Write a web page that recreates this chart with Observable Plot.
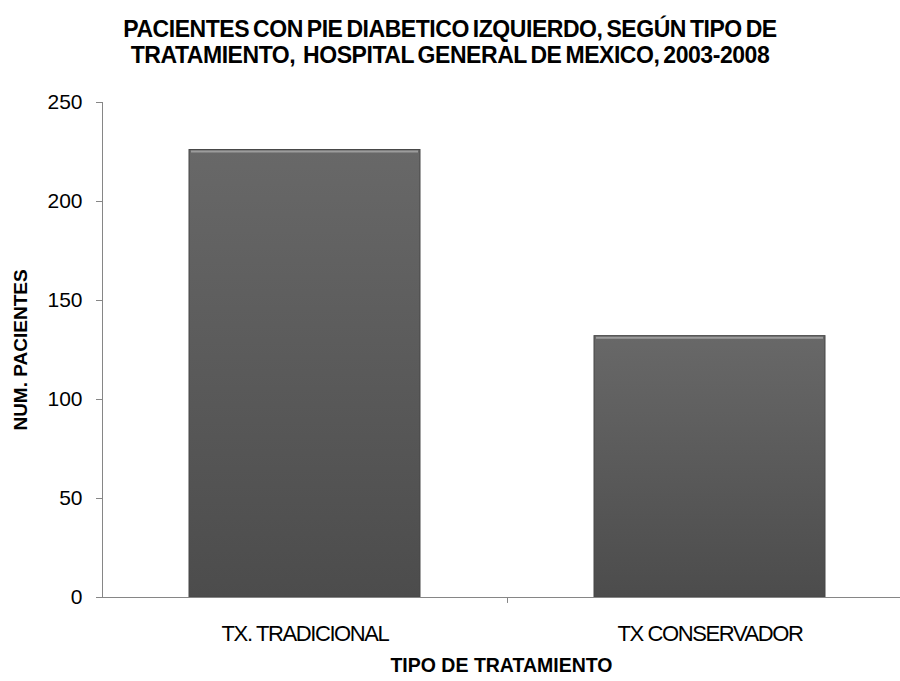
<!DOCTYPE html>
<html>
<head>
<meta charset="utf-8">
<script src="https://cdn.jsdelivr.net/npm/d3@7"></script>
<script src="https://cdn.jsdelivr.net/npm/@observablehq/plot@0.6"></script>
<style>
  body { margin: 0; background: #fff; font-family: "Liberation Sans", Arial, sans-serif; }
  #title {
    box-sizing: border-box; height: 72px; padding-top: 16px;
    text-align: center; font-weight: bold; font-size: 23px; line-height: 26px;
    letter-spacing: -0.45px; word-spacing: -2px; color: #000; white-space: pre;
  }
  #chart svg [aria-label="x-axis tick label"] text { letter-spacing: -1.4px; }
</style>
</head>
<body>
<div id="title"></div>
<div id="chart"></div>
<script>
// Patients with left diabetic foot by treatment type
const categories = ["TX. TRADICIONAL", "TX CONSERVADOR"];
const patients = [226, 132];
const yTicks = [0, 50, 100, 150, 200, 250];
const titleLines = [
  "PACIENTES CON PIE DIABETICO IZQUIERDO, SEGÚN TIPO DE",
  "TRATAMIENTO,  HOSPITAL GENERAL DE MEXICO, 2003-2008"
];
const xLabel = "TIPO DE TRATAMIENTO";
const yLabel = "NUM. PACIENTES";

const data = categories.map((category, i) => ({category, value: patients[i]}));

document.getElementById("title").textContent = titleLines.join("\n");

// band layout; the category boundary tick sits half a step left of the second band
const paddingInner = 0.43, paddingOuter = 0.215;
const xRange = [102, 912];
const step = (xRange[1] - xRange[0]) / (categories.length - paddingInner + 2 * paddingOuter);
const axisGray = "#868686";

const plot = Plot.plot({
  width: 900,
  height: 609,
  marginTop: 30,
  marginBottom: 84,
  marginLeft: 102,
  marginRight: 0,
  style: {fontFamily: "Liberation Sans, Arial, sans-serif", background: "#fff", color: "#000"},
  x: {domain: categories, range: xRange, paddingInner, paddingOuter},
  y: {domain: [0, 250]},
  marks: [
    Plot.barY(data, {x: "category", y: "value", fill: "url(#barFill)", stroke: "#474747", strokeWidth: 1}),
    Plot.tickY(data, {x: "category", y: "value", stroke: "#9c9c9c", strokeWidth: 2, dy: 1.5, insetLeft: 2, insetRight: 2}),
    Plot.ruleY([0], {stroke: axisGray}),
    Plot.frame({anchor: "left", stroke: axisGray}),
    Plot.ruleX([categories[1]], {x: d => d, dx: -step / 2, y1: 0, y2: -3, stroke: axisGray}),
    Plot.axisY(yTicks, {tickSize: 6, tickPadding: 14, fontSize: 21, stroke: axisGray, label: null}),
    Plot.axisX({tickSize: 0, tickPadding: 28, fontSize: 22, label: null}),
    Plot.text([xLabel], {frameAnchor: "bottom", dy: 74, fontWeight: "bold", fontSize: 19.5, letterSpacing: "-0.6px"}),
    Plot.text([yLabel], {frameAnchor: "left", dx: -82, rotate: -90, textAnchor: "middle", fontWeight: "bold", fontSize: 19})
  ]
});

// vertical shading for the bars
const defs = d3.select(plot).insert("defs", ":first-child");
const grad = defs.append("linearGradient")
  .attr("id", "barFill").attr("x1", 0).attr("y1", 0).attr("x2", 0).attr("y2", 1);
grad.append("stop").attr("offset", "0%").attr("stop-color", "#686868");
grad.append("stop").attr("offset", "100%").attr("stop-color", "#4c4c4c");

document.getElementById("chart").appendChild(plot);
</script>
</body>
</html>
